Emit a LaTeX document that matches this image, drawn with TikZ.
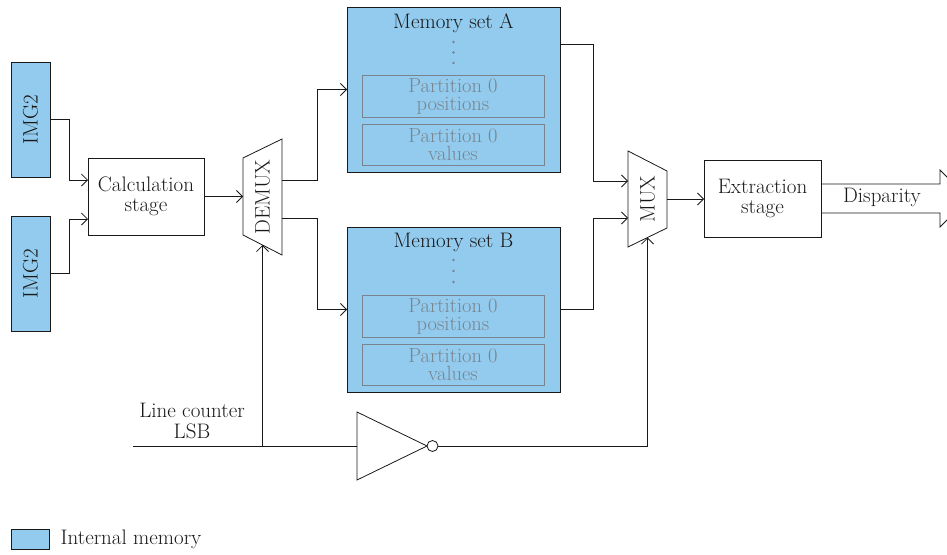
\documentclass[tikz,border=0pt]{standalone}
\usepackage{graphicx}
\usetikzlibrary{arrows.meta,calc}
\definecolor{memblue}{RGB}{146,203,238}
\definecolor{ink}{RGB}{25,25,25}
\definecolor{partgray}{RGB}{122,132,142}
\begin{document}
\begin{tikzpicture}[x=1pt,y=-1pt,line width=0.8pt,color=ink,
  font=\fontsize{21}{20}\selectfont,
  box/.style={draw,inner sep=0pt,outer sep=0pt,align=center},
  mem/.style={box,fill=memblue},
  part/.style={draw=partgray,line width=1pt,text=partgray,inner sep=0pt,outer sep=0pt,
    align=center,minimum width=182pt,font=\fontsize{20.5}{18}\selectfont},
  dot/.style={circle,fill=partgray,inner sep=0pt,minimum size=2.6pt},
  arr/.style={-{Straight Barb[length=6pt,width=12pt]}}]
\clip (0,0) rectangle (947,554);

% image inputs
\node[mem,minimum width=39pt,minimum height=115pt] (img1) at (30.5,119.5) {\rotatebox{90}{IMG2}};
\node[mem,minimum width=39pt,minimum height=115pt] (img2) at (30.5,273.5) {\rotatebox{90}{IMG2}};

% calculation stage
\node[box,minimum width=116pt,minimum height=77pt] (calc) at (146,196.5) {Calculation\\stage};

% demultiplexer
\node[inner sep=0pt,outer sep=0pt,minimum width=39pt,minimum height=116pt] (demux) at (262.5,197) {\rotatebox{90}{DEMUX}};
\draw (demux.north east) -- (demux.south east) -- ($(demux.south west)+(0,-20)$)
  -- ($(demux.north west)+(0,19)$) -- cycle;

% memory sets
\node[mem,minimum width=213pt,minimum height=165pt] (memA) at (453.5,89.5) {};
\node[anchor=center] (titA) at ($(memA.north)+(0,16)$) {Memory set A};
\foreach \d in {35,45.5,56} \node[dot] at ($(memA.north)+(0,\d)$) {};
\node[part,minimum height=42pt] (pAp) at (453,96) {Partition 0\\positions};
\node[part,minimum height=41pt] (pAv) at (453,144.5) {Partition 0\\values};

\node[mem,minimum width=213pt,minimum height=165pt] (memB) at (453.5,309.5) {};
\node[anchor=center] (titB) at ($(memB.north)+(0,15)$) {Memory set B};
\foreach \d in {33,44,55} \node[dot] at ($(memB.north)+(0,\d)$) {};
\node[part,minimum height=42pt] (pBp) at (453,316) {Partition 0\\positions};
\node[part,minimum height=41pt] (pBv) at (453,364.5) {Partition 0\\values};

% multiplexer
\node[inner sep=0pt,outer sep=0pt,minimum width=39pt,minimum height=96pt] (mux) at (647.5,199) {\rotatebox{90}{MUX}};
\draw (mux.north west) -- (mux.south west) -- ($(mux.south east)+(0,-19)$)
  -- ($(mux.north east)+(0,20)$) -- cycle;

% extraction stage
\node[box,minimum width=117pt,minimum height=77pt] (extr) at (762.5,198.5) {Extraction\\stage};

% output block arrow
\draw ($(extr.east)+(0,-14.5)$) -- ++(119,0) -- ++(0,-14) -- ++(28.5,28.5)
  -- ++(-28.5,28.5) -- ++(0,-14) -- ++(-119,0);
\node (disp) at (882,197) {Disparity};

% data path
\draw[arr] (img1.east) -- ++(19,0) |- ($(calc.west)+(0,-16.5)$);
\draw[arr] (img2.east) -- ++(19,0) |- ($(calc.west)+(0,22.5)$);
\draw[arr] (calc.east) -- (calc.east -| demux.west);
\draw[arr] ($(demux.east)+(0,-17)$) -- ++(35,0) |- (memA.west);
\draw[arr] ($(demux.east)+(0,21)$) -- ++(35,0) |- (memB.west);
\draw[arr] ($(memA.east)+(0,-45.5)$) -- ++(33,0) |- ($(mux.west)+(0,-18)$);
\draw[arr] (memB.east) -- ++(33,0) |- ($(mux.west)+(0,19)$);
\draw[arr] (mux.east) -- (mux.east -| extr.west);

% line counter select logic
\node (lc) at (192,421) [align=center,font=\fontsize{21}{21}\selectfont] {Line counter\\LSB};
\coordinate (lcin) at (133,446);
\node[inner sep=0pt,outer sep=0pt,minimum width=70pt,minimum height=68pt] (inv) at (392,446) {};
\draw (inv.north west) -- (inv.south west) -- (inv.east) -- cycle;
\node[circle,draw,fill=white,inner sep=0pt,outer sep=0pt,minimum size=11pt] (bub) at ($(inv.east)+(5.5,0)$) {};
\coordinate (dsel) at ($(demux.south)+(0,-10)$);
\coordinate (msel) at ($(mux.south)+(0,-9.5)$);
\coordinate (jn) at (dsel |- lcin);
\draw (lcin) -- (inv.west);
\draw[arr] (jn) -- (dsel);
\draw[arr] (bub.east) -| (msel);

% legend
\node[mem,minimum width=38pt,minimum height=20pt] (key) at (30,539) {};
\node[anchor=west] (keytxt) at (57,539) {Internal memory};
\end{tikzpicture}
\end{document}
